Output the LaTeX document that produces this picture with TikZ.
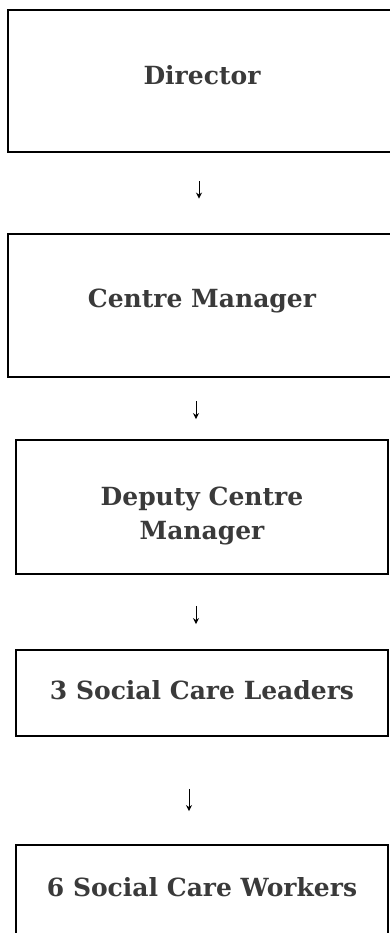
\documentclass[tikz,border=0pt]{standalone}
\usepackage{fontspec}
\setmainfont{DejaVu Serif}
\usetikzlibrary{arrows.meta,positioning}

\definecolor{boxtext}{HTML}{3A3A3A}

\tikzset{
  box/.style={draw, rectangle, line width=1.9pt, minimum width=372pt,
    inner sep=0pt, align=center, text=boxtext,
    font=\bfseries\fontsize{25}{34}\selectfont},
  bigbox/.style={box, line width=2.9pt, minimum width=388pt},
  link/.style={-{Stealth[length=6pt,width=6pt]}, line width=1pt}
}

\begin{document}
\begin{tikzpicture}[x=1pt,y=-1pt]
\useasboundingbox (0,0) rectangle (390,933);

 \node[bigbox, minimum height=142pt, text height=18pt, text depth=10pt] (dir) at (202,81) {Director};
 \node[bigbox, minimum height=143pt, text height=18pt, text depth=15pt] (cm) at (202,305.5) {Centre Manager};
 \node[box, minimum height=134pt, text height=64pt, text depth=0pt] (dep) at (202,507) {Deputy Centre\\Manager};
 \node[box, minimum height=86pt, text height=18pt, text depth=6pt] (lead) at (202,693) {3 Social Care Leaders};
 \node[box, minimum height=115pt, text height=18pt, text depth=31pt] (work) at (202,902.5) {6 Social Care Workers};

 \draw[link, shorten <=28pt, shorten >=34pt] ([xshift=-3pt]dir.south) -- ([xshift=-3pt]dir.south |- cm.north);
 \draw[link, shorten <=23pt, shorten >=20pt] ([xshift=-6pt]cm.south) -- ([xshift=-6pt]cm.south |- dep.north);
 \draw[link, shorten <=31pt, shorten >=25pt] ([xshift=-6pt]dep.south) -- ([xshift=-6pt]dep.south |- lead.north);
 \draw[link, shorten <=52pt, shorten >=33pt] ([xshift=-13pt]lead.south) -- ([xshift=-13pt]lead.south |- work.north);

\end{tikzpicture}
\end{document}
